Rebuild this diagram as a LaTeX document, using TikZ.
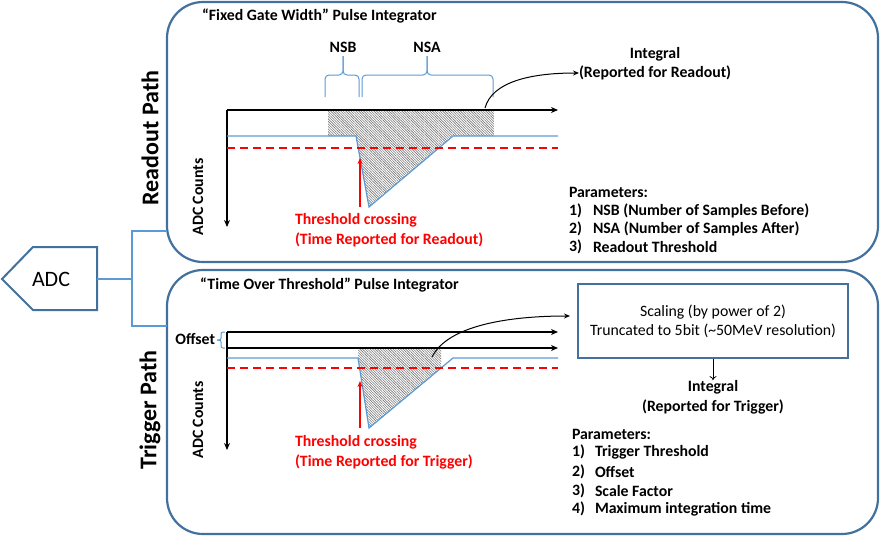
\documentclass[tikz,border=0pt]{standalone}
\usepackage{fontspec}
\setmainfont{Carlito}
\usepackage{tikz}
\usetikzlibrary{arrows.meta,patterns.meta}
\definecolor{pdfcolor1}{RGB}{65,113,156}
\definecolor{pdfcolor2}{RGB}{91,155,213}
\definecolor{pdfcolor3}{RGB}{255,0,0}
\definecolor{pdfcolor4}{RGB}{120,120,120}
\tikzset{
  panel/.style={draw=pdfcolor1,line width=2.2pt,rounded corners=36pt},
  axis/.style={line width=1.3pt,-{Stealth[length=7pt,width=6pt]}},
  pulse/.style={draw=pdfcolor2,line width=1.2pt},
  thresh/.style={draw=pdfcolor3,line width=1.2pt,dash pattern=on 8pt off 5pt},
  hatch/.style={pattern={Lines[angle=-45,distance=1.8pt,line width=0.6pt]},pattern color=pdfcolor4},
  bracket/.style={draw=pdfcolor2,line width=1pt,rounded corners=4pt},
  link/.style={draw=pdfcolor2,line width=1.2pt},
  trigarrow/.style={draw=pdfcolor3,line width=1.2pt,-{Stealth[length=6pt,width=5pt]}},
  lbl/.style={anchor=west,inner sep=0pt,outer sep=0pt,font=\fontsize{15.8pt}{18pt}\selectfont\bfseries},
  ctr/.style={anchor=center,inner sep=0pt,outer sep=0pt,font=\fontsize{15.8pt}{18pt}\selectfont\bfseries}
}
\begin{document}
\begin{tikzpicture}[x=1pt,y=-1pt]
  \useasboundingbox (0,0) rectangle (886,539);
  % panels
  \draw[panel] (167,2) rectangle (878,262);
  \draw[panel] (167,270) rectangle (878,534);
  \node[anchor=center,rotate=90,inner sep=0pt,font=\fontsize{24pt}{26pt}\selectfont\bfseries] (readpath) at (150,138) {Readout Path};
  \node[anchor=center,rotate=90,inner sep=0pt,font=\fontsize{24pt}{26pt}\selectfont\bfseries] (trigpath) at (150,410) {Trigger Path};
  % ADC
  \draw[draw=pdfcolor1,line width=2pt] (2,279) -- (33,247) -- (97,247) -- (97,310) -- (33,310) -- cycle;
  \node[anchor=center,inner sep=0pt,font=\fontsize{22pt}{24pt}\selectfont] (adc) at (51,279) {ADC};
  \coordinate (adcout) at (97,279);
  \coordinate (readin) at (167,231);
  \coordinate (trigin) at (167,326);
  \draw[link] (adcout) -- ++(35,0) coordinate (fork);
  \draw[link] (readin) -| (fork) |- (trigin);

  % readout path
  \node[lbl] (readtitle) at (202,16) {“Fixed Gate Width” Pulse Integrator};
  \fill[hatch] (328,110) -- (494,110) -- (494,136) -- (453,136) -- (369,207) -- (356,136) -- (328,136) -- cycle;
  \coordinate (readorig) at (227,110);
  \coordinate (readtime) at (558,110);
  \coordinate (readcount) at (227,227);
  \draw[axis] (readorig) -- (readtime);
  \draw[axis] (readorig) -- (readcount);
  \draw[pulse] (227,136) -- (356,136) -- (369,207) -- (453,136) -- (558,136);
  \draw[thresh] (227,148) -- (558,148);
  \draw[bracket] (325,97) -- (325,75) -- (343,75) -- (343,56);
  \draw[bracket] (359,97) -- (359,75) -- (343,75) -- (343,56);
  \draw[bracket] (362,97) -- (362,75) -- (427,75) -- (427,56);
  \draw[bracket] (493,97) -- (493,75) -- (427,75) -- (427,56);
  \node[ctr] (nsb) at (343,47) {NSB};
  \node[ctr] (nsa) at (427,47) {NSA};
  \node[ctr,rotate=90] (readadc) at (198,197) {ADC Counts};
  \coordinate (readcross) at (360,207);
  \draw[trigarrow] (readcross) -- (360,158);
  \node[lbl,text=pdfcolor3] (readthr) at (295,220) {Threshold crossing};
  \node[lbl,text=pdfcolor3] (readtim) at (295,240) {(Time Reported for Readout)};
  \node[ctr] (readint) at (655,54) {Integral};
  \node[lbl] (readrep) at (579,73) {(Reported for Readout)};
  \coordinate (readarea) at (485,108);
  \draw[line width=1pt,-{Stealth[length=6pt,width=5pt]}] (readarea) .. controls (492,82) and (530,73) .. (readrep.west);
  \node[lbl] (readpar) at (569,192) {Parameters:};
  \node[lbl] (readpar1) at (569,211) {1)};
  \node[lbl] (readpar1t) at (593,211) {NSB (Number of Samples Before)};
  \node[lbl] (readpar2) at (569,229) {2)};
  \node[lbl] (readpar2t) at (593,229) {NSA (Number of Samples After)};
  \node[lbl] (readpar3) at (569,247) {3)};
  \node[lbl] (readpar3t) at (593,247) {Readout Threshold};

  % trigger path
  \node[lbl] (trigtitle) at (200,285) {“Time Over Threshold” Pulse Integrator};
  \fill[hatch] (358,348) -- (441,348) -- (441,368) -- (369,428) -- (358,358) -- cycle;
  \coordinate (trigorig) at (227,332);
  \coordinate (trigtime) at (558,332);
  \coordinate (trigbase) at (227,348);
  \coordinate (trigtimeb) at (558,348);
  \coordinate (trigcount) at (227,450);
  \draw[axis] (trigorig) -- (trigtime);
  \draw[axis] (trigbase) -- (trigtimeb);
  \draw[axis] (trigorig) -- (trigcount);
  \draw[pulse] (227,358) -- (358,358) -- (369,428) -- (453,358) -- (558,358);
  \draw[thresh] (227,368) -- (558,368);
  \draw[bracket,rounded corners=2pt] (225,332) -- (221,332) -- (221,340) -- (217,340);
  \draw[bracket,rounded corners=2pt] (225,348) -- (221,348) -- (221,340) -- (217,340);
  \node[lbl,anchor=east] (offset) at (215,339) {Offset};
  \node[ctr,rotate=90] (trigadc) at (198,420) {ADC Counts};
  \coordinate (trigcross) at (360,428);
  \draw[trigarrow] (trigcross) -- (360,381);
  \node[lbl,text=pdfcolor3] (trigthr) at (295,442) {Threshold crossing};
  \node[lbl,text=pdfcolor3] (trigtim) at (295,462) {(Time Reported for Trigger)};
  \node[draw=pdfcolor1,line width=2pt,minimum width=270pt,minimum height=74pt,align=center,
        font=\fontsize{15.8pt}{19pt}\selectfont] (scalebox) at (713,321)
        {Scaling (by power of 2)\\Truncated to 5bit (\textasciitilde50MeV resolution)};
  \coordinate (trigarea) at (432,357);
  \coordinate (trigin2) at (570,316);
  \draw[line width=1pt,-{Stealth[length=6pt,width=5pt]}] (trigarea) .. controls (448,325) and (510,316) .. (trigin2);
  \node[ctr] (trigint) at (713,387) {Integral};
  \node[ctr] (trigrep) at (713,407) {(Reported for Trigger)};
  \draw[line width=0.8pt,-{To[length=4pt,width=7pt]}] (scalebox.south) -- (trigint.north);
  \node[lbl] (trigpar) at (572,434) {Parameters:};
  \node[lbl] (trigpar1) at (572,452) {1)};
  \node[lbl] (trigpar1t) at (595,452) {Trigger Threshold};
  \node[lbl] (trigpar2) at (572,472) {2)};
  \node[lbl] (trigpar2t) at (595,472) {Offset};
  \node[lbl] (trigpar3) at (572,491) {3)};
  \node[lbl] (trigpar3t) at (595,491) {Scale Factor};
  \node[lbl] (trigpar4) at (572,509) {4)};
  \node[lbl] (trigpar4t) at (595,509) {Maximum integration time};
\end{tikzpicture}
\end{document}
